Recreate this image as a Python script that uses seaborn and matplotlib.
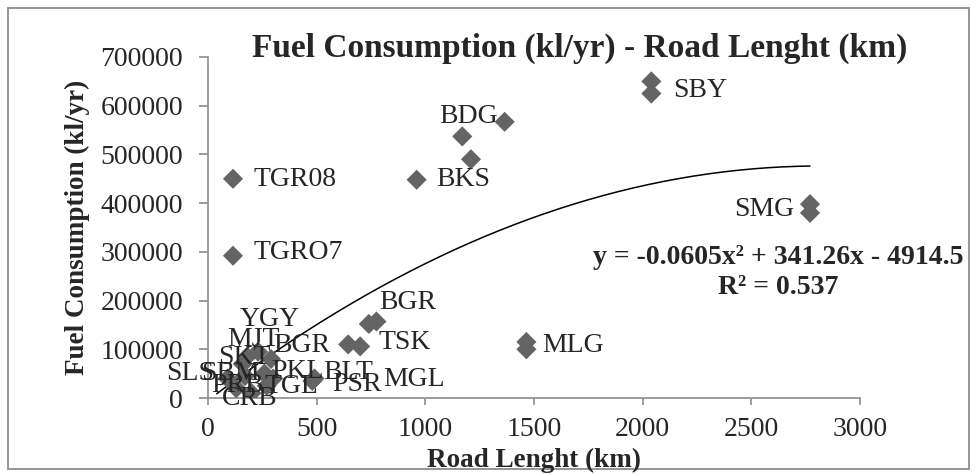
import numpy as np
import pandas as pd
import matplotlib
matplotlib.use('Agg')
import matplotlib.pyplot as plt
import seaborn as sns
from matplotlib.patches import Rectangle

# road length (km) and fuel consumption (kl/yr) per city
cities = ['SBY_2', 'SBY', 'BDG', 'BDG_2', 'BDG_3', 'BKS', 'TGR08', 'TGRO7',
          'SMG_2', 'SMG', 'MLG_2', 'MLG', 'BGR_2', 'BGR', 'TSK_2', 'TSK',
          'PSR', 'MGL', 'YGY', 'MJT', 'BGR ', 'SKT', 'SLS', 'SBM', 'PKL',
          'BLT', 'PRB', 'CRB', 'TGL']
road_km = [2040, 2040, 1365, 1170, 1210, 960, 115, 115,
           2770, 2770, 1465, 1465, 740, 775, 645, 700,
           480, 490, 230, 180, 290, 160, 90, 170, 260,
           300, 130, 200, 270]
fuel_kl = [650000, 625000, 567000, 537000, 490000, 448000, 450000, 292000,
           398000, 380000, 115000, 100000, 152000, 157000, 110000, 106000,
           35000, 40000, 95000, 85000, 80000, 70000, 40000, 45000, 50000,
           40000, 20000, 10000, 25000]

# polynomial trendline shown on the chart
trend_coef = [-0.0605, 341.26, -4914.5]
trend_range = [40, 2770]

# label offsets in pixels (dx, dy), only for labelled points
label_offsets = {
    'SBY': (49, 3), 'BDG': (-36, 5), 'BKS': (47, 0), 'TGR08': (62, -1),
    'TGRO7': (65, 3), 'SMG': (-46, 3), 'MLG': (47, 4), 'BGR': (31, 19),
    'TSK': (45, 4), 'PSR': (45, -4), 'MGL': (100, -1), 'YGY': (12, 32),
    'MJT': (6, 17), 'BGR ': (31, 14), 'SKT': (2, 6), 'SLS': (-37, 5),
    'SBM': (-15, 3), 'PKL': (33, 2), 'BLT': (75, 6), 'PRB': (1, 3),
    'CRB': (-2, -5), 'TGL': (25, -1),
}

df = pd.DataFrame({'city': cities, 'road': road_km, 'fuel': fuel_kl})

sns.set_style('white')
plt.rcParams['font.family'] = ['Liberation Serif', 'DejaVu Serif']

fig = plt.figure(figsize=(9.77, 4.74), dpi=100)
ax = fig.add_axes([208 / 977, 1 - 398 / 474, 652 / 977, 341 / 474])

xs = np.linspace(trend_range[0], trend_range[1], 200)
trend = pd.DataFrame({'x': xs, 'y': np.polyval(trend_coef, xs)})
sns.lineplot(data=trend, x='x', y='y', ax=ax, color='black', lw=1.1)

sns.scatterplot(data=df, x='road', y='fuel', ax=ax, marker='D', s=105,
                color='#646464', edgecolor='none', zorder=3)

for _, row in df.iterrows():
    if row['city'] in label_offsets:
        dx, dy = label_offsets[row['city']]
        ax.annotate(row['city'].split('_')[0].strip(), (row['road'], row['fuel']),
                    xytext=(dx, dy), textcoords='offset pixels',
                    ha='center', va='center', fontsize=20, zorder=4)

ax.set_xlim(0, 3000)
ax.set_ylim(0, 700000)
ax.set_xticks(range(0, 3001, 500))
ax.set_yticks(range(0, 700001, 100000))
ax.set_xlabel('')
ax.set_ylabel('')
ax.tick_params(labelsize=20, width=1.2, color='#8c8c8c',
               direction='out', bottom=True, left=True)
ax.tick_params(axis='y', length=6.5, pad=11.5)
ax.tick_params(axis='x', length=5, pad=8.5)
for side in ['top', 'right']:
    ax.spines[side].set_visible(False)
for side in ['left', 'bottom']:
    ax.spines[side].set_color('#8c8c8c')
    ax.spines[side].set_linewidth(1.2)

fig.text(580 / 977, 1 - 57 / 474, 'Fuel Consumption (kl/yr) - Road Lenght (km)',
         ha='center', va='baseline', fontsize=24, fontweight='bold')
fig.text(534 / 977, 1 - 460 / 474, 'Road Lenght (km)',
         ha='center', va='center', fontsize=19.5, fontweight='bold')
fig.text(77 / 977, 1 - 227 / 474, 'Fuel Consumption (kl/yr)', rotation=90,
         ha='center', va='center', fontsize=19.5, fontweight='bold')
fig.text(778 / 977, 1 - 258 / 474, 'y = -0.0605x² + 341.26x - 4914.5',
         ha='center', va='center', fontsize=20, fontweight='bold')
fig.text(778 / 977, 1 - 288 / 474, 'R² = 0.537',
         ha='center', va='center', fontsize=20, fontweight='bold')

fig.add_artist(Rectangle((8 / 977, 5 / 474), 961 / 977, 461 / 474,
                         transform=fig.transFigure, fill=False,
                         edgecolor='#8c8c8c', lw=1.3))

fig.savefig('out.png', dpi=100)
